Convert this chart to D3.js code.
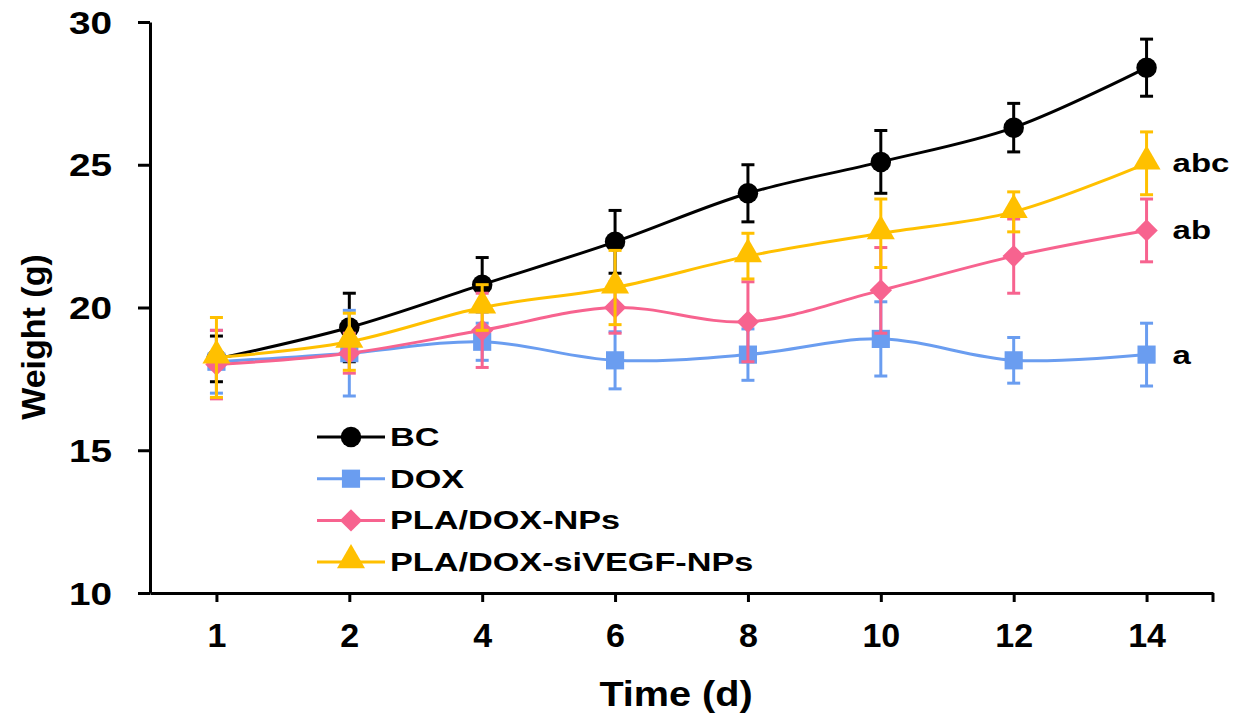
<!DOCTYPE html>
<html>
<head>
<meta charset="utf-8">
<script src="https://cdn.jsdelivr.net/npm/d3@7"></script>
<style>
  html, body { margin: 0; padding: 0; background: #fff; }
  svg { display: block; }
  text { font-family: "Liberation Sans", Arial, sans-serif; font-weight: bold; fill: #000; }
</style>
</head>
<body>
<svg id="chart" width="1243" height="717"></svg>
<script>
// ---- data ----
const days = ["1", "2", "4", "6", "8", "10", "12", "14"];
const seriesNames = ["BC", "DOX", "PLA/DOX-NPs", "PLA/DOX-siVEGF-NPs"];
const bcMean  = [18.2, 19.3, 20.8, 22.3, 24.0, 25.1, 26.3, 28.4];
const bcErr   = [0.8, 1.2, 0.95, 1.1, 1.0, 1.1, 0.85, 1.0];
const doxMean = [18.1, 18.4, 18.8, 18.15, 18.35, 18.9, 18.15, 18.35];
const doxErr  = [1.1, 1.5, 0.65, 1.0, 0.9, 1.3, 0.8, 1.1];
const plaMean = [18.0, 18.4, 19.2, 20.0, 19.5, 20.6, 21.8, 22.7];
const plaErr  = [1.2, 0.7, 1.3, 0.9, 1.4, 1.5, 1.3, 1.1];
const siMean  = [18.25, 18.8, 20.0, 20.7, 21.8, 22.6, 23.35, 25.05];
const siErr   = [1.4, 1.0, 0.8, 1.3, 0.8, 1.2, 0.7, 1.1];
const yTicks  = [10, 15, 20, 25, 30];
const sigLabels = ["", "a", "ab", "abc"];

// ---- styling ----
const colors  = ["#000000", "#6A9DF0", "#F7638F", "#FFC000"];
const symbols = [d3.symbolCircle, d3.symbolSquare, d3.symbolSquare, d3.symbolTriangle];
const symSizes = [330, 330, 250, 340];
const symRot = [0, 0, 45, 0];
const symDy = [0, 0, 0, -2];

const means = [bcMean, doxMean, plaMean, siMean];
const errs  = [bcErr, doxErr, plaErr, siErr];

const svg = d3.select("#chart");
const x = d3.scalePoint().domain(days).range([150, 1213]).padding(0.5);
const y = d3.scaleLinear().domain([10, 30]).range([593, 22]);

// ---- axes ----
const yAxis = svg.append("g").attr("transform", "translate(150,0)")
  .call(d3.axisLeft(y).tickValues(yTicks).tickSize(12).tickSizeOuter(0));
yAxis.select(".domain").attr("stroke", "#000").attr("stroke-width", 3);
yAxis.selectAll(".tick line").attr("stroke", "#000").attr("stroke-width", 3);
const ySX = 1.25;
yAxis.selectAll(".tick text")
  .attr("x", -38 / ySX).attr("dy", "0.36em")
  .attr("transform", `scale(${ySX},1)`)
  .style("font-size", "31px");

const xAxis = svg.append("g").attr("transform", "translate(0,593)")
  .call(d3.axisBottom(x).tickSize(9).tickSizeOuter(0));
xAxis.select(".domain").attr("stroke", "#000").attr("stroke-width", 3);
xAxis.selectAll(".tick line").attr("stroke", "#000").attr("stroke-width", 3);
xAxis.selectAll(".tick text").attr("y", 30).attr("dy", "0.71em").style("font-size", "34px");
xAxis.append("line")
  .attr("x1", x.range()[1]).attr("x2", x.range()[1])
  .attr("y1", 0).attr("y2", 9).attr("stroke", "#000").attr("stroke-width", 3);

// axis titles
svg.append("text")
  .attr("transform", "translate(676,706) scale(1.1,1)")
  .attr("text-anchor", "middle")
  .style("font-size", "36px")
  .text("Time (d)");
svg.append("text")
  .attr("transform", "translate(45,337) rotate(-90)")
  .attr("text-anchor", "middle")
  .style("font-size", "34px")
  .text("Weight (g)");

// ---- series ----
const line = d3.line()
  .x((d, i) => x(days[i]))
  .y(d => y(d))
  .curve(d3.curveCatmullRom.alpha(0.5));

const capW = 13;
means.forEach((m, s) => {
  const g = svg.append("g");
  const c = colors[s];
  // error bars
  m.forEach((v, i) => {
    const e = errs[s][i];
    const cx = x(days[i]);
    g.append("line").attr("x1", cx).attr("x2", cx)
      .attr("y1", y(v - e)).attr("y2", y(v + e))
      .attr("stroke", c).attr("stroke-width", 3);
    [v - e, v + e].forEach(t => {
      g.append("line").attr("x1", cx - capW / 2).attr("x2", cx + capW / 2)
        .attr("y1", y(t)).attr("y2", y(t))
        .attr("stroke", c).attr("stroke-width", 3);
    });
  });
  // line
  g.append("path").datum(m).attr("d", line)
    .attr("fill", "none").attr("stroke", c).attr("stroke-width", 3);
  // markers
  g.selectAll("path.mk").data(m).join("path").attr("class", "mk")
    .attr("transform", (d, i) => `translate(${x(days[i])},${y(d) + symDy[s]}) rotate(${symRot[s]})`)
    .attr("d", d3.symbol().type(symbols[s]).size(symSizes[s]))
    .attr("fill", c);
});

// significance labels
const annSX = 1.32;
means.forEach((m, s) => {
  if (!sigLabels[s]) return;
  const last = m[m.length - 1];
  svg.append("text")
    .attr("transform", `translate(${x(days[days.length - 1]) + 26},${y(last) + 9}) scale(${annSX},1)`)
    .style("font-size", "25px")
    .text(sigLabels[s]);
});

// ---- legend ----
const legY0 = 437, legDy = 41.7;
const legSX = 1.37;
seriesNames.forEach((name, s) => {
  const ly = legY0 + s * legDy;
  const g = svg.append("g");
  g.append("line").attr("x1", 317).attr("x2", 385).attr("y1", ly).attr("y2", ly)
    .attr("stroke", colors[s]).attr("stroke-width", 3);
  g.append("path")
    .attr("transform", `translate(351,${ly + symDy[s]}) rotate(${symRot[s]})`)
    .attr("d", d3.symbol().type(symbols[s]).size(symSizes[s]))
    .attr("fill", colors[s]);
  g.append("text")
    .attr("transform", `translate(390,${ly + 9}) scale(${legSX},1)`)
    .style("font-size", "25px")
    .text(name);
});
</script>
</body>
</html>
